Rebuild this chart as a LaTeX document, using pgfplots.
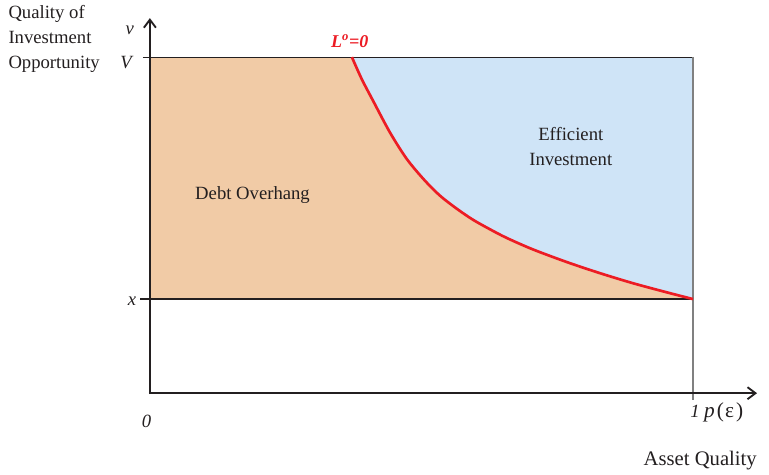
\documentclass[border=0pt]{standalone}
\usepackage{fontspec}
\setmainfont{Liberation Serif}
\usepackage{pgfplots}
\pgfplotsset{compat=1.18}
\usetikzlibrary{arrows.meta}

\definecolor{debt}{RGB}{241,203,166}
\definecolor{effic}{RGB}{207,228,247}
\definecolor{curve}{RGB}{236,28,36}
\definecolor{ink}{RGB}{35,31,32}

\begin{document}
\begin{tikzpicture}
  \begin{axis}[
      scale only axis,
      width=407.25pt,
      height=252pt,
      xmin=0, xmax=1,
      ymin=0, ymax=1,
      axis lines=none,
      clip=false,
    ]
    % canvas extent (matches reference framing)
    \path (axis cs:-0.276,-0.238) rectangle (axis cs:1.140,1.170);

    % regions
    \addplot[draw=none, fill=effic] coordinates {
      (0,0.280) (0,1) (1,1) (1,0.280)
    } -- cycle;
    \addplot[draw=none, fill=debt] coordinates {
      (0,0.280) (0,1)
      (0.372,1.000) (0.390,0.935) (0.411,0.870) (0.442,0.776) (0.473,0.697)
      (0.505,0.635) (0.534,0.588) (0.565,0.549) (0.595,0.516) (0.627,0.487)
      (0.657,0.462) (0.705,0.428) (0.768,0.390) (0.829,0.357) (0.890,0.327)
      (0.952,0.300) (1.000,0.280)
    } -- cycle;

    % guide lines
    \addplot[ink, line width=0.9pt] coordinates {(-0.013,1) (1,1)};
    \addplot[ink, line width=0.9pt] coordinates {(-0.018,0.280) (1,0.280)};
    \addplot[gray, line width=0.9pt] coordinates {(1,1) (1,-0.021)};

    % L^o = 0 boundary
    \addplot[curve, line width=2pt, smooth, tension=0.5] coordinates {
      (0.372,1.000) (0.390,0.935) (0.411,0.870) (0.442,0.776) (0.473,0.697)
      (0.505,0.635) (0.534,0.588) (0.565,0.549) (0.595,0.516) (0.627,0.487)
      (0.657,0.462) (0.705,0.428) (0.768,0.390) (0.829,0.357) (0.890,0.327)
      (0.952,0.300) (1.000,0.280)
    };

    % axes with arrows
    \addplot[ink, line width=1.4pt, -{Straight Barb[length=6pt,width=9pt]}]
      coordinates {(0,-0.003) (0,1.116)};
    \addplot[ink, line width=1.4pt, -{Straight Barb[length=6pt,width=9pt]}]
      coordinates {(-0.002,0) (1.118,0)};

    % labels
    \tikzset{lbl/.style={text=ink, font=\fontsize{14}{16}\selectfont}}
    \node[lbl, anchor=base west] at (axis cs:-0.269,1.116) {Quality of};
    \node[lbl, anchor=base west] at (axis cs:-0.269,1.042) {Investment};
    \node[lbl, anchor=base west] at (axis cs:-0.269,0.967) {Opportunity};
    \node[lbl, anchor=base, font=\fontsize{14}{16}\selectfont\itshape] at (axis cs:-0.037,1.068) {v};
    \node[lbl, anchor=base, font=\fontsize{14}{16}\selectfont\itshape] at (axis cs:-0.044,0.967) {V};
    \node[lbl, anchor=base, font=\fontsize{14}{16}\selectfont\itshape] at (axis cs:-0.033,0.262) {x};
    \node[lbl, anchor=base, font=\fontsize{14}{16}\selectfont\itshape] at (axis cs:-0.006,-0.101) {0};
    \node[lbl, anchor=base, font=\fontsize{14}{16}\selectfont\itshape] at (axis cs:1.004,-0.071) {1};
    \node[lbl, anchor=base west, inner xsep=0pt, font=\fontsize{16}{17}\selectfont] at (axis cs:1.020,-0.071)
      {\textit{p}\hspace{1.5pt}(\hspace{1pt}ε\hspace{1.5pt})};
    \node[lbl, anchor=base east, inner xsep=0pt, font=\fontsize{15.5}{17}\selectfont] at (axis cs:1.118,-0.214) {Asset Quality};
    \node[anchor=base, text=curve, font=\fontsize{13.5}{16}\selectfont\bfseries\itshape] at (axis cs:0.368,1.030) {L\textsuperscript{o}=0};
    \node[lbl, anchor=base] at (axis cs:0.189,0.577) {Debt Overhang};
    \node[lbl, anchor=base] at (axis cs:0.775,0.753) {Efficient};
    \node[lbl, anchor=base] at (axis cs:0.775,0.679) {Investment};
  \end{axis}
\end{tikzpicture}
\end{document}
